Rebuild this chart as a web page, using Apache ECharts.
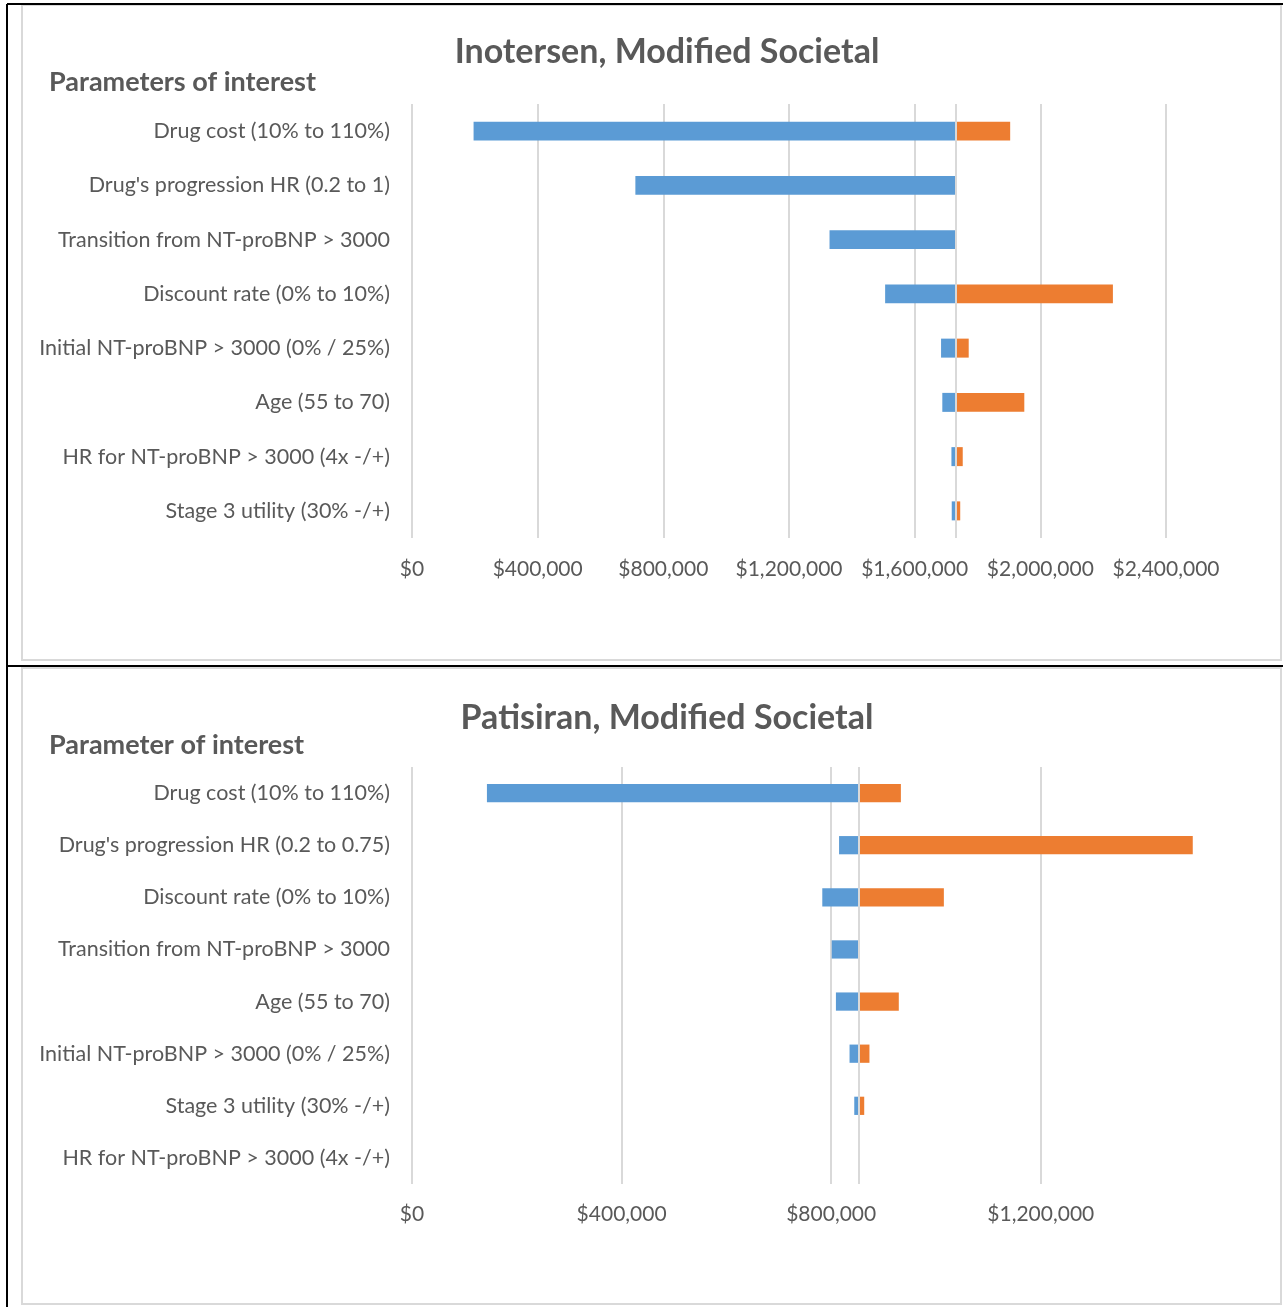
<!DOCTYPE html>
<html>
<head>
<meta charset="utf-8">
<script src="https://cdn.jsdelivr.net/npm/echarts@6/dist/echarts.min.js"></script>
<style>
  html, body { margin: 0; padding: 0; background: #fff; }
  #main { width: 1283px; height: 1307px; }
</style>
</head>
<body>
<div id="main"></div>
<script>
// Inotersen, Modified Societal
var inoCats = ['Drug cost (10% to 110%)', "Drug's progression HR (0.2 to 1)", 'Transition from NT-proBNP > 3000',
  'Discount rate (0% to 10%)', 'Initial NT-proBNP > 3000 (0% / 25%)', 'Age (55 to 70)',
  'HR for NT-proBNP > 3000 (4x -/+)', 'Stage 3 utility (30% -/+)'];
var inoBase = 1732000;
var inoLow  = [196000, 711000, 1329000, 1506000, 1684000, 1688000, 1717000, 1718000];
var inoHigh = [1904000, 1732000, 1732000, 2231000, 1772000, 1949000, 1753000, 1745000];
var inoMax = 2400000;

// Patisiran, Modified Societal
var patCats = ['Drug cost (10% to 110%)', "Drug's progression HR (0.2 to 0.75)", 'Discount rate (0% to 10%)',
  'Transition from NT-proBNP > 3000', 'Age (55 to 70)', 'Initial NT-proBNP > 3000 (0% / 25%)',
  'Stage 3 utility (30% -/+)', 'HR for NT-proBNP > 3000 (4x -/+)'];
var patBase = 853000;
var patLow  = [143000, 815000, 783000, 801000, 809000, 835000, 844000, 852000];
var patHigh = [933000, 1490000, 1015000, 853000, 929000, 873000, 863000, 853000];
var patMax = 1500000;

var tickStep = 400000;

var FONT = 'Lato';
var TXT = '#595959';
var GRIDC = '#d9d9d9';

function money(v) {
  return '$' + v.toLocaleString('en-US');
}

// tornado = invisible offset + blue (low..base) + orange (base..high)
function tornado(idx, low, high, base) {
  var offset = [], down = [], up = [];
  for (var i = 0; i < low.length; i++) {
    offset.push(low[i]);
    down.push(base - low[i]);
    up.push(high[i] - base);
  }
  var st = 'st' + idx;
  return [
    { type: 'bar', xAxisIndex: idx, yAxisIndex: idx, stack: st, data: offset, barWidth: '35%',
      itemStyle: { color: 'transparent' }, silent: true },
    { type: 'bar', xAxisIndex: idx, yAxisIndex: idx, stack: st, data: down, barWidth: '35%',
      itemStyle: { color: '#5B9BD5' }, silent: true,
      markLine: { silent: true, symbol: 'none', z: 10, label: { show: false },
        lineStyle: { color: GRIDC, width: 2, type: 'solid' },
        data: [{ xAxis: base }] } },
    { type: 'bar', xAxisIndex: idx, yAxisIndex: idx, stack: st, data: up, barWidth: '35%',
      itemStyle: { color: '#ED7D31' }, silent: true }
  ];
}

function valAxis(idx, max, margin) {
  return {
    type: 'value', gridIndex: idx, min: 0, max: max, interval: tickStep,
    axisLine: { show: false }, axisTick: { show: false },
    axisLabel: { color: TXT, fontFamily: FONT, fontSize: 21, margin: margin, formatter: money,
      showMaxLabel: max % tickStep === 0 },
    splitLine: { show: true, showMaxLine: max % tickStep === 0, lineStyle: { color: GRIDC, width: 2 } }
  };
}

function catAxis(idx, cats) {
  return {
    type: 'category', gridIndex: idx, data: cats, inverse: true,
    axisLine: { show: false }, axisTick: { show: false },
    axisLabel: { color: TXT, fontFamily: FONT, fontSize: 21.5, margin: 22 }
  };
}

var chart = echarts.init(document.getElementById('main'));

var option = {
  animation: false,
  textStyle: { fontFamily: FONT },
  title: [
    { text: 'Inotersen, Modified Societal', left: 662, top: 30, textAlign: 'center',
      textStyle: { fontFamily: FONT, fontSize: 34, fontWeight: 'bold', color: TXT } },
    { text: 'Parameters of interest', left: 44, top: 64,
      textStyle: { fontFamily: FONT, fontSize: 27, fontWeight: 'bold', color: TXT } },
    { text: 'Patisiran, Modified Societal', left: 662, top: 696, textAlign: 'center',
      textStyle: { fontFamily: FONT, fontSize: 34, fontWeight: 'bold', color: TXT } },
    { text: 'Parameter of interest', left: 44, top: 727,
      textStyle: { fontFamily: FONT, fontSize: 27, fontWeight: 'bold', color: TXT } }
  ],
  grid: [
    { left: 412, top: 104, width: 754, height: 434 },
    { left: 412, top: 767, width: 786, height: 417 }
  ],
  xAxis: [valAxis(0, inoMax, 21), valAxis(1, patMax, 20)],
  yAxis: [catAxis(0, inoCats), catAxis(1, patCats)],
  series: tornado(0, inoLow, inoHigh, inoBase).concat(tornado(1, patLow, patHigh, patBase)),
  graphic: [
    { type: 'rect', shape: { x: 22, y: 5, width: 1259, height: 655 }, silent: true,
      style: { fill: 'none', stroke: GRIDC, lineWidth: 2 } },
    { type: 'rect', shape: { x: 22, y: 668, width: 1259, height: 636 }, silent: true,
      style: { fill: 'none', stroke: GRIDC, lineWidth: 2 } },
    { type: 'line', shape: { x1: 7, y1: 4, x2: 7, y2: 1307 }, silent: true,
      style: { stroke: '#000', lineWidth: 2 } },
    { type: 'line', shape: { x1: 7, y1: 4, x2: 1283, y2: 4 }, silent: true,
      style: { stroke: '#000', lineWidth: 2 } },
    { type: 'line', shape: { x1: 7, y1: 666, x2: 1283, y2: 666 }, silent: true,
      style: { stroke: '#000', lineWidth: 2 } }
  ]
};

chart.setOption(option);
</script>
</body>
</html>
